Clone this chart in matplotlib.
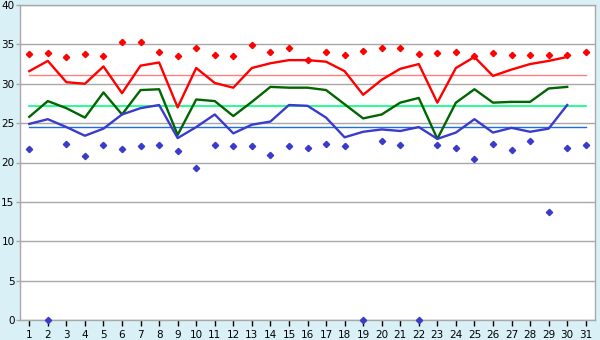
import numpy as np
import matplotlib
matplotlib.use('Agg')
import matplotlib.pyplot as plt

# donnees
jours = list(range(1, 32))
maxi = [33.8, 33.9, 33.4, 33.8, 33.5, 35.3, 35.3, 34.0, 33.5, 34.5,
        33.7, 33.5, 34.9, 34.0, 34.5, 33.0, 34.0, 33.6, 34.1, 34.6,
        34.6, 33.8, 33.9, 34.0, 33.5, 33.9, 33.6, 33.6, 33.6, 33.6, 34.0]
mini = [21.7, 0.0, 22.4, 20.8, 22.2, 21.7, 22.1, 22.2, 21.4, 19.3,
        22.2, 22.1, 22.1, 21.0, 22.1, 21.8, 22.4, 22.1, 0.0, 22.7,
        22.2, 0.0, 22.2, 21.8, 20.5, 22.3, 21.6, 22.7, 13.7, 21.8, 22.2]
courbe_haute = [31.6, 32.9, 30.2, 30.0, 32.2, 28.8, 32.3, 32.7, 27.0, 32.0,
                30.1, 29.5, 32.0, 32.6, 33.0, 33.0, 32.8, 31.6, 28.6, 30.5,
                31.9, 32.5, 27.6, 32.0, 33.4, 31.0, 31.8, 32.5, 32.9, 33.4]
courbe_moy = [25.8, 27.8, 26.9, 25.7, 28.9, 26.1, 29.2, 29.3, 23.5, 28.0,
              27.8, 25.9, 27.7, 29.6, 29.5, 29.5, 29.2, 27.4, 25.6, 26.1,
              27.6, 28.2, 23.0, 27.6, 29.3, 27.6, 27.7, 27.7, 29.4, 29.6]
courbe_basse = [24.9, 25.5, 24.5, 23.4, 24.3, 26.1, 26.9, 27.3, 23.1, 24.5,
                26.1, 23.7, 24.8, 25.2, 27.3, 27.2, 25.7, 23.2, 23.9, 24.2,
                24.0, 24.5, 23.0, 23.8, 25.5, 23.8, 24.4, 23.9, 24.3, 27.3]
moy_haute = 31.07
moy_moy = 27.13
moy_basse = 24.55

fond = '#DAF0F7'
gris = '#A8A8A8'

fig = plt.figure(figsize=(6, 3.4), dpi=100, facecolor=fond)
ax = fig.add_axes([20 / 600, 20 / 340, 575 / 600, 315 / 340])
ax.set_facecolor('white')

n = len(courbe_haute)
x30 = jours[:n]

# lignes de moyenne
ax.plot([jours[0], jours[-1]], [moy_haute] * 2, color='#FF8080', lw=1, zorder=2)
ax.plot([jours[0], jours[-1]], [moy_moy] * 2, color='#00FF80', lw=1.2, zorder=2)
ax.plot([jours[0], jours[-1]], [moy_basse] * 2, color='#1E6EE0', lw=1, zorder=2)

# courbes
ax.plot(x30, courbe_haute, color='#FF0000', lw=1.7, zorder=3)
ax.plot(x30, courbe_moy, color='#006600', lw=1.7, zorder=3)
ax.plot(x30, courbe_basse, color='#3A3ACC', lw=1.7, zorder=3)

# points
ax.plot(jours, maxi, ls='none', marker='D', ms=3.2, color='#FF0000', mec='#FF0000', zorder=4, clip_on=False)
ax.plot(jours, mini, ls='none', marker='D', ms=3.2, color='#3A3ACC', mec='#3A3ACC', zorder=4, clip_on=False)

ax.set_xlim(0.5, 31.5)
ax.set_ylim(0, 40)
ax.set_xticks(jours)
ax.set_yticks(np.arange(0, 41, 5))
ax.yaxis.grid(True, color=gris, lw=1)
ax.set_axisbelow(True)

for s in ax.spines.values():
    s.set_color(gris)
    s.set_linewidth(1)

ax.tick_params(axis='x', direction='out', length=4, width=1, color='black',
               labelsize=7.5, pad=3)
ax.tick_params(axis='y', direction='out', length=3, width=1, color=gris,
               labelsize=7.5, pad=1)

fig.savefig('out.png', dpi=100, facecolor=fond)
